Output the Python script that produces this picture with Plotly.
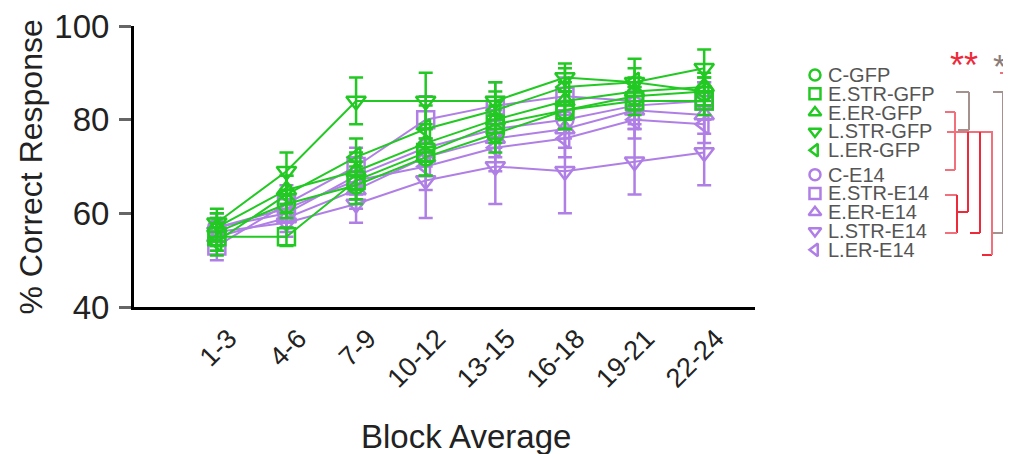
import plotly.graph_objects as go

# ---------------- data ----------------
blocks = ["1-3", "4-6", "7-9", "10-12", "13-15", "16-18", "19-21", "22-24"]
groups = ["C-GFP", "E.STR-GFP", "E.ER-GFP", "L.STR-GFP", "L.ER-GFP",
          "C-E14", "E.STR-E14", "E.ER-E14", "L.STR-E14", "L.ER-E14"]

c_gfp = [56, 62, 66, 72, 77, 82, 85, 86]
e_str_gfp = [55, 55, 67, 73, 79, 82, 84, 84]
e_er_gfp = [57, 65, 69, 75, 80, 84, 86, 87]
l_str_gfp = [58, 69, 84, 84, 84, 89, 88, 91]
l_er_gfp = [54, 64, 72, 78, 82, 87, 88, 86]
c_e14 = [57, 60, 68, 74, 78, 80, 83, 84]
e_str_e14 = [53, 62, 70, 80, 83, 85, 84, 84]
e_er_e14 = [55, 59, 65, 72, 76, 78, 82, 81]
l_str_e14 = [56, 58, 62, 67, 70, 69, 71, 73]
l_er_e14 = [57, 61, 67, 70, 74, 76, 80, 79]

c_gfp_err = [3, 3, 4, 4, 4, 4, 3, 3]
e_str_gfp_err = [3, 2, 4, 5, 4, 4, 3, 3]
e_er_gfp_err = [3, 3, 4, 4, 4, 4, 3, 3]
l_str_gfp_err = [3, 4, 5, 6, 4, 3, 5, 4]
l_er_gfp_err = [3, 4, 4, 5, 4, 4, 3, 3]
c_e14_err = [3, 3, 4, 4, 4, 4, 4, 4]
e_str_e14_err = [3, 4, 4, 5, 5, 4, 4, 4]
e_er_e14_err = [3, 3, 4, 4, 4, 4, 4, 4]
l_str_e14_err = [3, 3, 4, 8, 8, 9, 7, 7]
l_er_e14_err = [3, 3, 4, 5, 5, 4, 4, 4]

means = [c_gfp, e_str_gfp, e_er_gfp, l_str_gfp, l_er_gfp,
         c_e14, e_str_e14, e_er_e14, l_str_e14, l_er_e14]
errs = [c_gfp_err, e_str_gfp_err, e_er_gfp_err, l_str_gfp_err, l_er_gfp_err,
        c_e14_err, e_str_e14_err, e_er_e14_err, l_str_e14_err, l_er_e14_err]

# ---------------- style ----------------
# the page has an 8px body margin, so the figure is placed at (8, 8) in the window
OFF = 8
W, H = 1011 - OFF, 454 - OFF
GREEN = "#22C922"
PURPLE = "#B07FE6"
symbols = ["circle-open", "square-open", "triangle-up-open", "triangle-down-open", "triangle-left-open"] * 2
colors = [GREEN] * 5 + [PURPLE] * 5
FONT = "Arial, Liberation Sans, sans-serif"

# plot area in window pixels
L, R, T, B = 134, 755, 26, 307


def px(x):
    return (x - OFF) / W


def py(y):
    return 1 - (y - OFF) / H


fig = go.Figure()

# draw purple first, then green on top
order = list(range(5, 10)) + list(range(0, 5))
for i in order:
    fig.add_trace(go.Scatter(
        x=blocks, y=means[i], name=groups[i], mode="lines+markers",
        line=dict(color=colors[i], width=2),
        marker=dict(symbol=symbols[i], size=17, color=colors[i],
                    line=dict(width=2.5, color=colors[i])),
        error_y=dict(type="data", array=errs[i], color=colors[i], thickness=2.5, width=7),
        showlegend=False, xaxis="x", yaxis="y",
    ))

# legend (manual) on overlay axes
leg_pos = [i + (0.3 if i >= 5 else 0) for i in range(len(groups))]
LEG_TOP, LEG_STEP = 75, 18.8
y2_top_pos, y2_bot_pos = -1, 10.3
y2_dom = [py(LEG_TOP + LEG_STEP * y2_bot_pos), py(LEG_TOP + LEG_STEP * y2_top_pos)]
fig.add_trace(go.Scatter(
    x=[0.071] * len(groups), y=leg_pos, mode="markers",
    marker=dict(symbol=symbols, size=11, color=colors, line=dict(width=2.5, color=colors)),
    showlegend=False, hoverinfo="skip", xaxis="x2", yaxis="y2",
))
annotations = []
for g, p in zip(groups, leg_pos):
    annotations.append(dict(x=0.125, y=p, xref="x2", yref="y2", text=g, showarrow=False,
                            xanchor="left", yanchor="middle",
                            font=dict(family=FONT, size=20, color="#555555")))

# axis titles
annotations.append(dict(x=px(30), y=py((T + B) / 2 + 1), xref="paper", yref="paper",
                        text="% Correct Response", textangle=-90, showarrow=False,
                        xanchor="center", yanchor="middle",
                        font=dict(family=FONT, size=32, color="#222222")))
annotations.append(dict(x=px(466), y=py(436), xref="paper", yref="paper",
                        text="Block Average", showarrow=False,
                        xanchor="center", yanchor="middle",
                        font=dict(family=FONT, size=33, color="#222222")))

# significance stars
RED = "#EE2A3A"
PINK = "#F2707C"
GREY = "#A3928E"
annotations.append(dict(x=px(964), y=py(66), xref="paper", yref="paper", text="**",
                        showarrow=False, xanchor="center", yanchor="middle",
                        font=dict(family=FONT, size=36, color=RED)))
annotations.append(dict(x=px(999), y=py(66), xref="paper", yref="paper", text="*",
                        showarrow=False, xanchor="center", yanchor="middle",
                        font=dict(family=FONT, size=34, color="#8C7C78")))

# significance brackets (window-pixel segments)
segs = [
    # grey brackets
    (956, 92, 969, 92, GREY), (969, 92, 969, 130, GREY), (958, 130, 969, 130, GREY),
    (993, 92, 1003, 92, GREY), (1003, 92, 1003, 233, GREY), (993, 233, 1008, 233, GREY),
    # red brackets
    (945, 112, 955, 112, PINK), (955, 112, 955, 170, PINK), (945, 170, 955, 170, PINK),
    (947, 132, 993, 132, PINK),
    (945, 195, 957, 195, PINK), (957, 195, 957, 233, RED), (945, 233, 957, 233, PINK),
    (957, 212, 968, 212, RED), (968, 132, 968, 212, RED),
    (970, 233, 980, 233, RED), (980, 132, 980, 233, RED),
    (982, 255, 992, 255, RED), (992, 132, 992, 255, PINK),
    (1008, 233, 1011, 233, RED), (1000, 73, 1008, 73, PINK),
]
shapes = []
for x0, y0, x1, y1, c in segs:
    shapes.append(dict(type="line", xref="paper", yref="paper",
                       x0=px(x0), y0=py(y0), x1=px(x1), y1=py(y1),
                       line=dict(color=c, width=2)))

fig.update_layout(
    width=W, height=H,
    margin=dict(l=0, r=0, t=0, b=0, autoexpand=False),
    paper_bgcolor="white", plot_bgcolor="white",
    font=dict(family=FONT, color="#222222"),
    xaxis=dict(domain=[px(L), px(R)], type="category", range=[-1.19, 7.73],
               showgrid=False, zeroline=False, showline=True, linecolor="black", linewidth=3,
               ticks="", tickangle=-45, tickfont=dict(family=FONT, size=27, color="#222222"),
               ticklabelshift=12, ticklabelstandoff=2, ticklabeloverflow="allow",
               anchor="y", automargin=False),
    yaxis=dict(domain=[py(B), py(T)], range=[40, 100], tickvals=[40, 60, 80, 100],
               showgrid=False, zeroline=False, showline=True, linecolor="black", linewidth=3,
               ticks="outside", ticklen=12, tickwidth=3, tickcolor="#666666",
               tickfont=dict(family=FONT, size=33, color="#222222"),
               ticklabelstandoff=3, ticklabeloverflow="allow",
               anchor="x", automargin=False),
    xaxis2=dict(domain=[px(800), 1], range=[0, 1], visible=False, anchor="y2"),
    yaxis2=dict(domain=y2_dom, range=[y2_bot_pos, y2_top_pos], visible=False, anchor="x2"),
    annotations=annotations, shapes=shapes,
    showlegend=False,
)

fig.write_html("out.html")
